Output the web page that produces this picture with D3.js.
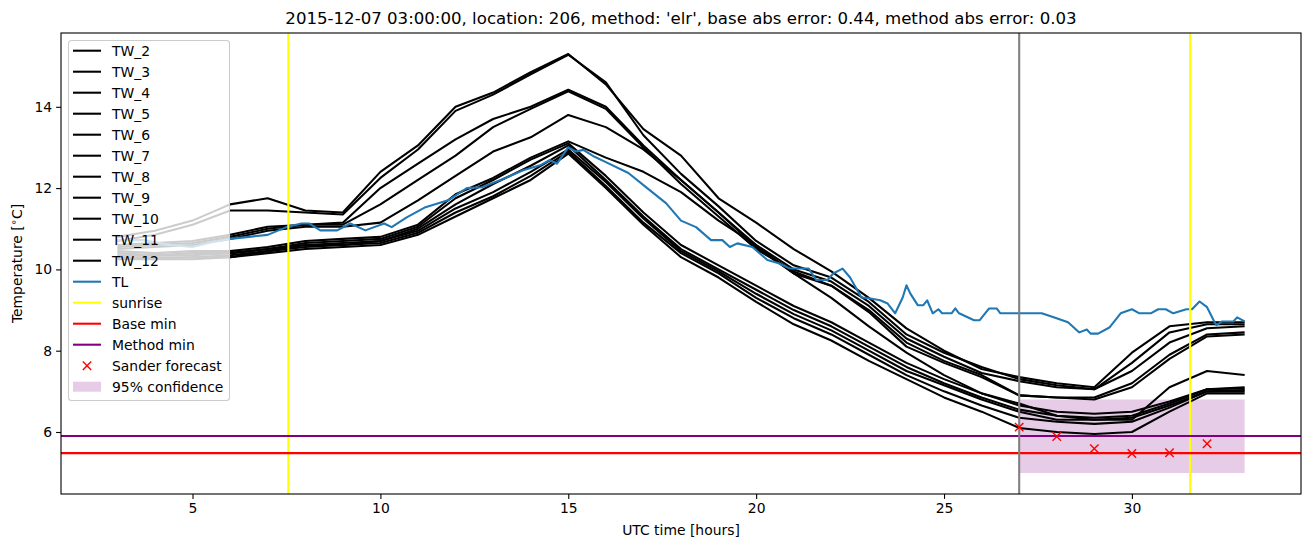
<!DOCTYPE html>
<html>
<head>
<meta charset="utf-8">
<script src="https://cdn.jsdelivr.net/npm/d3@7"></script>
<style>
body { margin: 0; background: #fff; }
text { font-family: "DejaVu Sans", sans-serif; fill: #000; }
</style>
</head>
<body>
<div id="chart"></div>
<script>
// ---- data ----
const title = "2015-12-07 03:00:00, location: 206, method: 'elr', base abs error: 0.44, method abs error: 0.03";

// hourly sample times for the TW sensors (UTC hours)
const hours = [3,4,5,6,7,8,9,10,11,12,13,14,15,16,17,18,19,20,21,22,23,24,25,26,27,28,29,30,31,32,33];

const TW_2  = [10.8,10.95,11.2,11.6,11.75,11.45,11.4,12.4,13.05,14.0,14.35,14.85,15.3,14.55,13.45,12.8,11.75,11.15,10.5,9.95,9.3,8.55,8.0,7.55,7.35,7.2,7.1,7.95,8.6,8.7,8.7];
const TW_3  = [10.7,10.85,11.1,11.45,11.45,11.4,11.35,12.25,12.95,13.9,14.3,14.8,15.28,14.6,13.3,12.35,11.55,10.7,10.1,9.8,9.2,8.4,7.95,7.6,7.3,7.15,7.05,7.7,8.45,8.65,8.65];
const TW_4  = [10.55,10.6,10.65,10.8,11.0,11.1,11.15,12.0,12.6,13.2,13.7,14.0,14.42,14.0,13.05,12.2,11.4,10.6,10.0,9.7,9.1,8.3,7.85,7.45,7.25,7.1,7.05,7.5,8.2,8.55,8.6];
const TW_5  = [10.6,10.65,10.7,10.85,11.05,11.1,11.1,11.6,12.2,12.8,13.5,13.95,14.38,13.95,13.0,12.1,11.3,10.5,9.95,9.6,9.0,8.2,7.75,7.4,6.9,6.85,6.85,7.2,7.9,8.4,8.45];
const TW_6  = [10.5,10.55,10.6,10.75,10.95,11.05,11.05,11.15,11.7,12.3,12.9,13.25,13.8,13.5,12.95,12.2,11.4,10.55,9.9,9.6,8.95,8.1,7.7,7.35,6.9,6.85,6.8,7.1,7.8,8.35,8.4];
const TW_7  = [10.45,10.4,10.45,10.45,10.55,10.7,10.75,10.8,11.1,11.85,12.25,12.75,13.15,12.75,12.4,11.9,11.2,10.6,9.9,9.3,8.6,7.95,7.4,6.95,6.7,6.4,6.3,6.3,7.1,7.5,7.4];
const TW_8  = [10.4,10.35,10.4,10.4,10.5,10.65,10.7,10.75,11.05,11.75,12.2,12.7,13.1,12.3,11.4,10.6,10.1,9.6,9.1,8.7,8.2,7.7,7.3,6.95,6.65,6.5,6.45,6.5,6.75,7.05,7.1];
const TW_9  = [10.35,10.35,10.35,10.4,10.5,10.6,10.65,10.7,11.0,11.6,12.1,12.55,13.05,12.2,11.3,10.5,10.0,9.5,9.0,8.6,8.1,7.6,7.2,6.85,6.55,6.4,6.35,6.4,6.7,7.05,7.07];
const TW_10 = [10.3,10.3,10.3,10.35,10.45,10.6,10.6,10.7,10.95,11.5,11.9,12.4,12.95,12.15,11.25,10.45,9.95,9.4,8.9,8.5,8.0,7.5,7.15,6.8,6.5,6.3,6.3,6.35,6.65,7.0,7.03];
const TW_11 = [10.3,10.25,10.3,10.3,10.45,10.55,10.6,10.65,10.9,11.4,11.8,12.3,12.9,12.05,11.15,10.4,9.9,9.3,8.8,8.4,7.9,7.4,7.0,6.65,6.35,6.25,6.2,6.25,6.6,7.0,7.0];
const TW_12 = [10.25,10.25,10.25,10.3,10.4,10.5,10.55,10.6,10.85,11.3,11.75,12.2,12.85,12.0,11.1,10.3,9.8,9.2,8.65,8.25,7.75,7.3,6.85,6.5,6.1,6.0,5.95,6.0,6.5,6.95,6.95];

const twNames = ["TW_2","TW_3","TW_4","TW_5","TW_6","TW_7","TW_8","TW_9","TW_10","TW_11","TW_12"];
const twValues = [TW_2,TW_3,TW_4,TW_5,TW_6,TW_7,TW_8,TW_9,TW_10,TW_11,TW_12];

// air temperature (TL), irregular sample times
const tlHours = [3.0,3.7,4.4,5.0,5.5,6.0,7.0,7.5,7.9,8.1,8.4,8.85,9.2,9.6,10.1,10.3,10.7,11.2,11.8,12.3,12.7,13.2,13.8,14.25,14.5,14.7,15.0,15.2,15.4,15.7,16.0,16.6,17.1,17.6,18.0,18.4,18.8,19.1,19.3,19.5,19.9,20.3,20.6,20.9,21.4,21.6,21.9,22.05,22.3,22.5,22.8,23.0,23.3,23.5,23.7,23.9,24.0,24.1,24.3,24.45,24.55,24.7,24.85,24.95,25.2,25.3,25.4,25.8,25.95,26.2,26.4,26.5,27.6,27.9,28.3,28.6,28.8,28.9,29.1,29.4,29.7,30.0,30.2,30.5,30.7,30.9,31.1,31.45,31.6,31.8,32.0,32.2,32.25,32.4,32.7,32.8,33.0];
const tlTemp  = [10.72,10.72,10.6,10.55,10.67,10.75,10.85,11.04,11.13,11.13,10.96,10.96,11.13,10.96,11.13,11.04,11.28,11.53,11.7,12.0,12.02,12.2,12.44,12.56,12.69,12.6,13.0,12.9,12.94,12.77,12.64,12.37,12.0,11.63,11.2,11.04,10.72,10.72,10.55,10.64,10.55,10.23,10.15,10.02,10.02,9.74,9.74,9.9,10.02,9.8,9.31,9.29,9.24,9.16,8.92,9.31,9.61,9.41,9.12,9.12,9.24,8.92,9.02,8.92,8.92,9.04,8.92,8.75,8.75,9.04,9.04,8.92,8.92,8.83,8.7,8.45,8.52,8.42,8.42,8.57,8.92,9.02,8.92,8.92,9.02,9.02,8.92,9.02,9.02,9.21,9.07,8.7,8.63,8.72,8.72,8.82,8.72];

const sunriseHours = [7.55, 31.55];
const forecastStart = 27;
const baseMin = 5.48;
const methodMin = 5.9;
const forecastHours = [27, 28, 29, 30, 31, 32];
const forecastTemp  = [6.12, 5.89, 5.59, 5.47, 5.49, 5.71];
const confHours = [27, 33];
const confLow   = [4.99, 4.99];
const confHigh  = [6.8, 6.8];

const xTicks = [5, 10, 15, 20, 25, 30];
const yTicks = [6, 8, 10, 12, 14];

// ---- layout ----
let width = 1310, height = 547;
let margin = {top: 33, left: 61, right: 9, bottom: 53};
let iw = width - margin.left - margin.right;
let ih = height - margin.top - margin.bottom;

function padded(ext){
    let d = (ext[1] - ext[0]) * 0.05;
    return [ext[0] - d, ext[1] + d];
}

let allY = twValues.flat().concat(tlTemp, forecastTemp, confLow, confHigh, [baseMin, methodMin]);
let x = d3.scaleLinear().domain(padded(d3.extent(hours))).range([0, iw]);
let y = d3.scaleLinear().domain(padded(d3.extent(allY))).range([ih, 0]);

let svg = d3.select('#chart').append('svg')
    .attr('width', width)
    .attr('height', height);

svg.append('defs').append('clipPath').attr('id', 'plotclip')
    .append('rect').attr('width', iw).attr('height', ih);

let g = svg.append('g')
    .attr('transform', 'translate(' + margin.left + ',' + margin.top + ')');

let plot = g.append('g').attr('clip-path', 'url(#plotclip)');

// confidence band (drawn lowest, like fill_between)
let band = d3.area()
    .x((d, i) => x(confHours[i]))
    .y0((d, i) => y(confLow[i]))
    .y1((d, i) => y(confHigh[i]));
plot.append('path')
    .attr('d', band(confHours))
    .attr('fill', 'purple')
    .attr('fill-opacity', 0.2);

let line = d3.line()
    .x((d, i) => x(hours[i]))
    .y(d => y(d));

plot.selectAll('.tw')
    .data(twValues)
    .enter()
    .append('path')
    .attr('class', 'tw')
    .attr('d', d => line(d))
    .attr('fill', 'none')
    .attr('stroke', '#000')
    .attr('stroke-width', 2.08)
    .attr('stroke-linejoin', 'round');

let tlLine = d3.line()
    .x((d, i) => x(tlHours[i]))
    .y(d => y(d));
plot.append('path')
    .attr('d', tlLine(tlTemp))
    .attr('fill', 'none')
    .attr('stroke', '#1f77b4')
    .attr('stroke-width', 2.08)
    .attr('stroke-linejoin', 'round');

// sunrise lines
plot.selectAll('.sunrise')
    .data(sunriseHours)
    .enter()
    .append('line')
    .attr('x1', d => x(d)).attr('x2', d => x(d))
    .attr('y1', 0).attr('y2', ih)
    .attr('stroke', '#ffff00')
    .attr('stroke-width', 2.08);

// minima
plot.append('line')
    .attr('x1', 0).attr('x2', iw)
    .attr('y1', y(baseMin)).attr('y2', y(baseMin))
    .attr('stroke', 'red').attr('stroke-width', 2.08);
plot.append('line')
    .attr('x1', 0).attr('x2', iw)
    .attr('y1', y(methodMin)).attr('y2', y(methodMin))
    .attr('stroke', 'purple').attr('stroke-width', 2.08);

// forecast start
plot.append('line')
    .attr('x1', x(forecastStart)).attr('x2', x(forecastStart))
    .attr('y1', 0).attr('y2', ih)
    .attr('stroke', '#808080').attr('stroke-width', 2.08);

// Sander forecast markers
function cross(sel, s){
    sel.append('path')
        .attr('d', 'M' + (-s) + ',' + (-s) + 'L' + s + ',' + s + 'M' + (-s) + ',' + s + 'L' + s + ',' + (-s))
        .attr('stroke', 'red')
        .attr('stroke-width', 1.4)
        .attr('fill', 'none');
}
plot.selectAll('.fc')
    .data(forecastHours)
    .enter()
    .append('g')
    .attr('class', 'fc')
    .attr('transform', (d, i) => 'translate(' + x(d) + ',' + y(forecastTemp[i]) + ')')
    .each(function(){ cross(d3.select(this), 4.2); });

// axes
let xAxis = d3.axisBottom(x).tickValues(xTicks).tickSize(4.9).tickPadding(4).tickFormat(d3.format('d'));
let yAxis = d3.axisLeft(y).tickValues(yTicks).tickSize(4.9).tickPadding(4).tickFormat(d3.format('d'));

g.append('g')
    .attr('transform', 'translate(0,' + ih + ')')
    .call(xAxis);
g.append('g')
    .call(yAxis);

g.selectAll('.tick text').attr('font-size', '13.9px').attr('font-family', '"DejaVu Sans", sans-serif');
g.selectAll('.tick line').attr('stroke-width', 1.1);
g.selectAll('.domain').remove();

// frame
g.append('rect')
    .attr('width', iw).attr('height', ih)
    .attr('fill', 'none')
    .attr('stroke', '#000')
    .attr('stroke-width', 1.1);

// title and labels
svg.append('text')
    .attr('x', margin.left + iw / 2).attr('y', 24)
    .attr('text-anchor', 'middle')
    .attr('font-size', '16.6px')
    .text(title);

svg.append('text')
    .attr('x', margin.left + iw / 2).attr('y', 535)
    .attr('text-anchor', 'middle')
    .attr('font-size', '13.9px')
    .text('UTC time [hours]');

let yl = svg.append('text')
    .attr('transform', 'translate(22,' + (margin.top + ih / 2) + ') rotate(-90)')
    .attr('text-anchor', 'middle')
    .attr('font-size', '13.9px');
yl.append('tspan').text('Temperature [');
yl.append('tspan').text('\u2218').attr('font-size', '10px').attr('dy', '-5');
yl.append('tspan').text('C]').attr('dy', '5');

// legend
let legendItems = twNames.map(n => ({label: n, kind: 'line', color: '#000'}))
    .concat([
        {label: 'TL', kind: 'line', color: '#1f77b4'},
        {label: 'sunrise', kind: 'line', color: '#ffff00'},
        {label: 'Base min', kind: 'line', color: 'red'},
        {label: 'Method min', kind: 'line', color: 'purple'},
        {label: 'Sander forecast', kind: 'marker', color: 'red'},
        {label: '95% confidence', kind: 'patch', color: 'purple'}
    ]);

let legend = svg.append('g').attr('transform', 'translate(68,40)');
legend.append('rect')
    .attr('x', 0.5).attr('y', 0.5)
    .attr('width', 161).attr('height', 360)
    .attr('rx', 3)
    .attr('fill', '#fff').attr('fill-opacity', 0.8)
    .attr('stroke', '#cccccc').attr('stroke-width', 1.1);

let rows = legend.selectAll('.lg')
    .data(legendItems)
    .enter()
    .append('g')
    .attr('class', 'lg')
    .attr('transform', (d, i) => 'translate(0,' + (10.7 + i * 21) + ')');

rows.each(function(d){
    let r = d3.select(this);
    if (d.kind === 'line') {
        r.append('line').attr('x1', 5).attr('x2', 33).attr('y1', 0).attr('y2', 0)
            .attr('stroke', d.color).attr('stroke-width', 2.08);
    } else if (d.kind === 'marker') {
        let m = r.append('g').attr('transform', 'translate(19,0)');
        cross(m, 4.2);
    } else {
        r.append('rect').attr('x', 5).attr('y', -5).attr('width', 28).attr('height', 10)
            .attr('fill', d.color).attr('fill-opacity', 0.2);
    }
    r.append('text')
        .attr('x', 44).attr('y', 5)
        .attr('font-size', '13.9px')
        .text(d.label);
});
</script>
</body>
</html>
